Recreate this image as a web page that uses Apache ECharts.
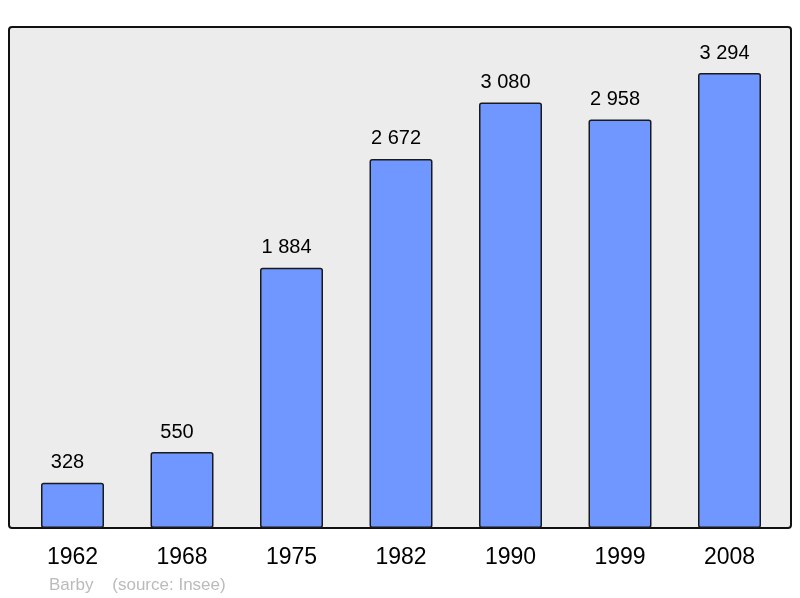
<!DOCTYPE html>
<html><head><meta charset="utf-8">
<script src="https://cdn.jsdelivr.net/npm/echarts@6/dist/echarts.min.js"></script>
<style>html,body{margin:0;padding:0;background:#fff}#c{width:800px;height:598px}</style>
</head><body><div id="c"></div>
<script>
const years = ['1962','1968','1975','1982','1990','1999','2008'];
const population = [328, 550, 1884, 2672, 3080, 2958, 3294];
const footer = 'Barby    (source: Insee)';

const fmt = v => String(v).replace(/\B(?=(\d{3})+(?!\d))/g, ' ');
const chart = echarts.init(document.getElementById('c'));
chart.setOption({
  animation: false,
  backgroundColor: '#ffffff',
  textStyle: { fontFamily: 'Liberation Sans, Arial, sans-serif' },
  graphic: [{
    type: 'rect', z: -10, silent: true,
    shape: { x: 9, y: 27, width: 782, height: 501, r: 3 },
    style: { fill: '#ececec', stroke: '#111', lineWidth: 2 }
  }],
  title: {
    text: footer, left: 44, top: 572,
    textStyle: { fontSize: 17, fontWeight: 'normal', color: '#bbbbbb', fontFamily: 'Liberation Sans, Arial, sans-serif' }
  },
  grid: { left: 17.75, right: 15.75, top: 27, bottom: 70 },
  xAxis: {
    type: 'category', data: years,
    axisLine: { show: false }, axisTick: { show: false },
    axisLabel: { fontSize: 23, color: '#000', margin: 18 }
  },
  yAxis: {
    type: 'value', min: 0, max: 3627,
    show: false, splitLine: { show: false }
  },
  series: [{
    type: 'bar', data: population, barWidth: 63,
    itemStyle: { color: '#7096ff', borderColor: '#1a1a1a', borderWidth: 1.5, borderRadius: 2 },
    label: { show: true, position: 'top', distance: 10, offset: [-5, 0], fontSize: 20, color: '#000', formatter: p => fmt(p.value) }
  }]
});
</script></body></html>
